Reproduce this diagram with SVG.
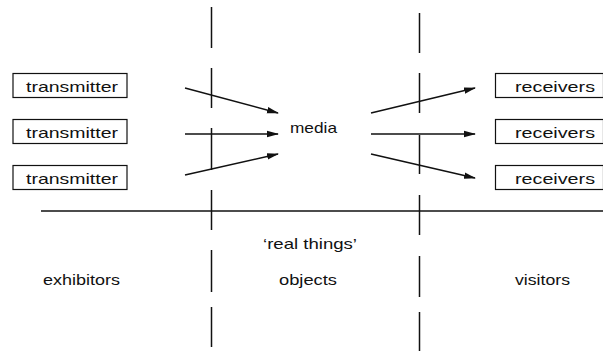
<svg xmlns="http://www.w3.org/2000/svg" width="603" height="351" viewBox="0 0 603 351">
  <style>
    text { font-family: "Liberation Sans", Arial, sans-serif; font-size: 15px; fill: #111; }
    .box { fill: #fff; stroke: #111; stroke-width: 1.2; }
    .arrow { stroke: #111; stroke-width: 1.5; fill: none; marker-end: url(#ah); }
    .dash { stroke: #111; stroke-width: 1.5; fill: none; }
    .rule { stroke: #111; stroke-width: 1.3; fill: none; }
  </style>
  <defs>
    <marker id="ah" viewBox="0 0 12 8" refX="11" refY="4" markerWidth="12" markerHeight="8" markerUnits="userSpaceOnUse" orient="auto">
      <path d="M0,0.8 L12,4 L0,7.2 Z" fill="#111"/>
    </marker>
  </defs>

  <g id="dividers">
    <path class="dash" d="M211.5,7 V48 M211.5,68 V108 M211.5,128 V170 M211.5,190 V230 M211.5,250 V292 M211.5,307 V347"/>
    <path class="dash" d="M419.5,13 V53 M419.5,73 V113 M419.5,135 V174 M419.5,195 V235 M419.5,256 V297 M419.5,312 V351"/>
    <path class="rule" d="M41,211 H603"/>
  </g>

  <g id="transmitter1"><rect class="box" x="13" y="73.5" width="114" height="24"/><text x="26" y="92" textLength="92" lengthAdjust="spacingAndGlyphs">transmitter</text></g>
  <g id="transmitter2"><rect class="box" x="13" y="119.5" width="114" height="24"/><text x="26" y="138" textLength="92" lengthAdjust="spacingAndGlyphs">transmitter</text></g>
  <g id="transmitter3"><rect class="box" x="13" y="165.5" width="114" height="24"/><text x="26" y="184" textLength="92" lengthAdjust="spacingAndGlyphs">transmitter</text></g>

  <g id="media"><text x="290" y="133" textLength="47" lengthAdjust="spacingAndGlyphs">media</text></g>

  <g id="receivers1"><rect class="box" x="495.5" y="73.5" width="108" height="24"/><text x="515" y="92" textLength="80" lengthAdjust="spacingAndGlyphs">receivers</text></g>
  <g id="receivers2"><rect class="box" x="495.5" y="119.5" width="108" height="24"/><text x="515" y="138" textLength="80" lengthAdjust="spacingAndGlyphs">receivers</text></g>
  <g id="receivers3"><rect class="box" x="495.5" y="165.5" width="108" height="24"/><text x="515" y="184" textLength="80" lengthAdjust="spacingAndGlyphs">receivers</text></g>

  <g id="connectors">
    <line class="arrow" x1="185" y1="88" x2="278" y2="113"/>
    <line class="arrow" x1="185" y1="134" x2="278" y2="134"/>
    <line class="arrow" x1="185" y1="175" x2="278" y2="154"/>
    <line class="arrow" x1="371" y1="113" x2="475" y2="88"/>
    <line class="arrow" x1="371" y1="134" x2="475" y2="134"/>
    <line class="arrow" x1="371" y1="154" x2="475" y2="178"/>
  </g>

  <g id="labels">
    <text x="263" y="249" textLength="94" lengthAdjust="spacingAndGlyphs">‘real things’</text>
    <text x="43" y="285" textLength="77" lengthAdjust="spacingAndGlyphs">exhibitors</text>
    <text x="279" y="285" textLength="58" lengthAdjust="spacingAndGlyphs">objects</text>
    <text x="515" y="285" textLength="55" lengthAdjust="spacingAndGlyphs">visitors</text>
  </g>
</svg>
